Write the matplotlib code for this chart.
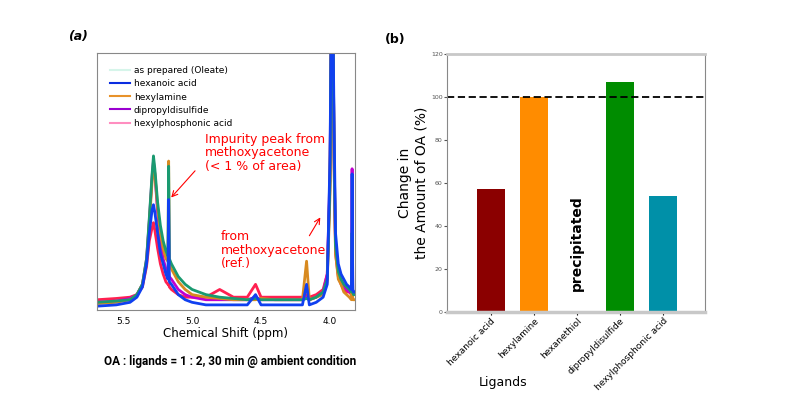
import matplotlib
matplotlib.use("Agg")
import matplotlib.pyplot as plt
from matplotlib.lines import Line2D

# ---- panel (a): 1H NMR spectra (normalised intensity) ----
ppm = [5.69, 5.55, 5.45, 5.40, 5.36, 5.33, 5.31, 5.29, 5.28, 5.27, 5.25, 5.23,
       5.21, 5.19, 5.175, 5.17, 5.165, 5.15, 5.10, 5.05, 5.00, 4.90, 4.80, 4.70,
       4.60, 4.54, 4.50, 4.40, 4.30, 4.20, 4.17, 4.15, 4.10, 4.05, 4.02, 4.00,
       3.99, 3.98, 3.97, 3.96, 3.94, 3.92, 3.90, 3.88, 3.86, 3.845, 3.84, 3.835,
       3.83, 3.82]

oleate = [0.03, 0.035, 0.04, 0.06, 0.10, 0.20, 0.36, 0.53, 0.60, 0.55, 0.42, 0.33,
          0.27, 0.23, 0.21, 0.56, 0.20, 0.18, 0.13, 0.10, 0.08, 0.06, 0.05, 0.045,
          0.04, 0.045, 0.04, 0.04, 0.04, 0.04, 0.045, 0.04, 0.05, 0.07, 0.12, 0.50,
          1.20, 1.20, 0.60, 0.25, 0.15, 0.12, 0.10, 0.09, 0.08, 0.07, 0.30, 0.07,
          0.06, 0.06]
hexanoic = [0.015, 0.02, 0.03, 0.05, 0.09, 0.18, 0.30, 0.39, 0.41, 0.38, 0.30, 0.22,
            0.18, 0.14, 0.12, 0.43, 0.11, 0.10, 0.06, 0.04, 0.03, 0.02, 0.02, 0.02,
            0.02, 0.06, 0.02, 0.02, 0.02, 0.02, 0.10, 0.02, 0.03, 0.05, 0.10, 0.60,
            1.20, 1.20, 0.70, 0.30, 0.18, 0.14, 0.12, 0.10, 0.09, 0.08, 0.53, 0.08,
            0.07, 0.07]
hexylamine = [0.025, 0.03, 0.04, 0.06, 0.10, 0.19, 0.34, 0.50, 0.57, 0.53, 0.40, 0.30,
              0.24, 0.20, 0.19, 0.58, 0.18, 0.16, 0.11, 0.08, 0.06, 0.05, 0.045, 0.04,
              0.04, 0.04, 0.045, 0.04, 0.04, 0.04, 0.19, 0.04, 0.05, 0.06, 0.11, 0.45,
              1.20, 1.20, 0.55, 0.22, 0.12, 0.10, 0.07, 0.06, 0.05, 0.04, 0.20, 0.04,
              0.04, 0.04]
disulfide = [0.03, 0.035, 0.045, 0.06, 0.10, 0.20, 0.35, 0.52, 0.58, 0.53, 0.38, 0.27,
             0.20, 0.16, 0.14, 0.15, 0.13, 0.12, 0.08, 0.06, 0.05, 0.04, 0.04, 0.04,
             0.04, 0.05, 0.04, 0.04, 0.04, 0.04, 0.05, 0.04, 0.05, 0.07, 0.14, 0.55,
             1.20, 1.20, 0.60, 0.25, 0.14, 0.11, 0.09, 0.08, 0.07, 0.07, 0.55, 0.07,
             0.06, 0.06]
phosphonic = [0.04, 0.045, 0.05, 0.06, 0.09, 0.17, 0.27, 0.32, 0.34, 0.31, 0.24, 0.18,
              0.14, 0.11, 0.10, 0.10, 0.09, 0.08, 0.06, 0.05, 0.05, 0.05, 0.08, 0.05,
              0.05, 0.10, 0.05, 0.05, 0.05, 0.05, 0.06, 0.05, 0.06, 0.08, 0.14, 0.50,
              1.20, 1.20, 0.55, 0.22, 0.13, 0.10, 0.08, 0.07, 0.07, 0.06, 0.15, 0.06,
              0.06, 0.06]

legend_names = ["as prepared (Oleate)", "hexanoic acid", "hexylamine",
                "dipropyldisulfide", "hexylphosphonic acid"]
legend_colors = ["#d6f5ea", "#0a2de0", "#e8922a", "#9a00d0", "#ff8ec0"]

# ---- panel (b): change in amount of OA ----
ligands = ["hexanoic acid", "hexylamine", "hexanethiol",
           "dipropyldisulfide", "hexylphosphonic acid"]
oa_change = [57, 100, 0, 107, 54]
bar_colors = ["#8b0000", "#ff8c00", "#ffffff", "#008c00", "#0090a8"]
reference_level = 100

fig = plt.figure(figsize=(8.01, 4.09), dpi=100)

# (a)
ax = fig.add_axes([0.121, 0.242, 0.322, 0.628])
ax.plot(ppm, phosphonic, color="#ff2050", lw=2)
ax.plot(ppm, disulfide, color="#c000d0", lw=2)
ax.plot(ppm, hexylamine, color="#d88a20", lw=2)
ax.plot(ppm, oleate, color="#1a9a70", lw=2)
ax.plot(ppm, hexanoic, color="#1040f0", lw=2)
ax.set_xlim(5.69, 3.82)
ax.set_ylim(0, 1)
ax.set_yticks([])
ax.set_xticks([5.5, 5.0, 4.5, 4.0])
ax.set_xticklabels(["5.5", "5.0", "4.5", "4.0"])
ax.tick_params(axis="x", labelsize=6.5, length=0, pad=5)
ax.set_xlabel("Chemical Shift (ppm)", fontsize=8.5, labelpad=1)
for s in ax.spines.values():
    s.set_color("#888888")

handles = [Line2D([], [], color=c, lw=1.5) for c in legend_colors]
ax.legend(handles, legend_names, loc="upper left", bbox_to_anchor=(0.02, 0.98),
          frameon=False, fontsize=6.5, handlelength=2.2, labelspacing=0.45,
          handletextpad=0.4)

ax.annotate("", xy=(5.165, 0.43), xytext=(4.965, 0.55),
            arrowprops=dict(arrowstyle="->", color="red", lw=0.8))
ax.text(4.91, 0.69, "Impurity peak from\nmethoxyacetone\n(< 1 % of area)",
        color="red", fontsize=9, va="top", ha="left", linespacing=1.05)
ax.annotate("", xy=(4.06, 0.37), xytext=(4.16, 0.28),
            arrowprops=dict(arrowstyle="->", color="red", lw=0.8))
ax.text(4.79, 0.31, "from\nmethoxyacetone\n(ref.)",
        color="red", fontsize=9, va="top", ha="left", linespacing=1.05)

fig.text(0.085, 0.902, "(a)", fontsize=9, fontweight="bold", style="italic")
fig.text(0.287, 0.108, "OA : ligands = 1 : 2, 30 min @ ambient condition",
         fontsize=8.5, fontweight="bold", ha="center", family="Roboto")

# (b)
bx = fig.add_axes([0.558, 0.237, 0.322, 0.631])
x = list(range(len(ligands)))
bx.bar(x, oa_change, width=0.65, color=bar_colors)
bx.axhline(reference_level, color="black", ls="--", lw=1.3, dashes=(4, 2))
bx.set_xlim(-1.02, 4.98)
bx.set_ylim(0, 120)
bx.set_yticks([0, 20, 40, 60, 80, 100, 120])
bx.tick_params(axis="y", labelsize=4.5, length=2, colors="#555555", pad=1)
bx.set_xticks(x)
bx.set_xticklabels(ligands, rotation=45, ha="right", rotation_mode="anchor",
                   fontsize=6.5)
bx.tick_params(axis="x", length=2, pad=1)
bx.set_ylabel("Change in\nthe Amount of OA (%)", fontsize=10, labelpad=2)
bx.text(2, 32, "precipitated", rotation=90, ha="center", va="center",
        fontsize=10, fontweight="bold")
for s in bx.spines.values():
    s.set_color("#888888")
bx.spines["bottom"].set_color("#c8c8c8")
bx.spines["bottom"].set_linewidth(2.5)
bx.spines["top"].set_color("#c8c8c8")
bx.spines["top"].set_linewidth(2)

fig.text(0.628, 0.064, "Ligands", fontsize=9, ha="center", va="center")
fig.text(0.48, 0.895, "(b)", fontsize=9, fontweight="bold")

fig.savefig("out.png", dpi=100)
